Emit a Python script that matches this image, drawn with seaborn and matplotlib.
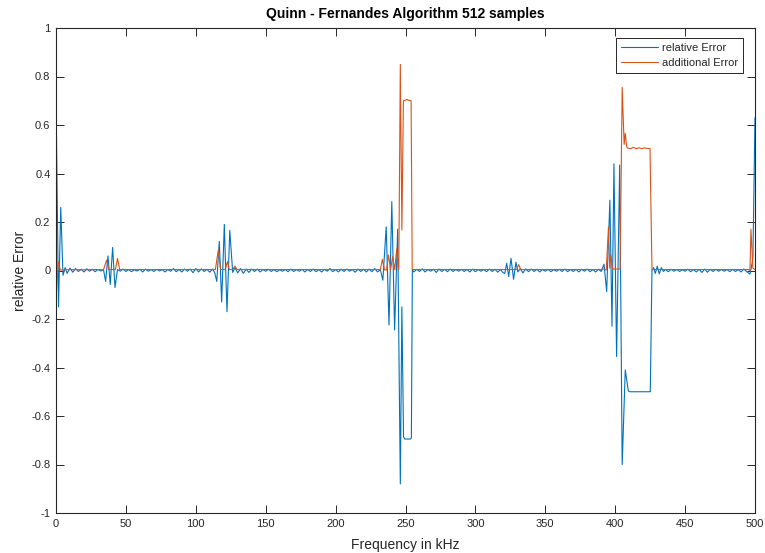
import matplotlib
matplotlib.use("Agg")
import matplotlib.pyplot as plt
import seaborn as sns
import pandas as pd

# Relative error of the frequency estimate (kHz, value)
relative_freq = [
    0, 1.8, 3.4, 5, 6.5, 8, 10, 12, 14, 16, 18, 20, 22, 24, 26, 28, 30, 32, 34,
    35.5, 37.2, 38.8, 40.5, 42.2, 44, 46, 48, 50, 52, 54, 56, 58, 60, 62, 64, 66,
    68, 70, 72, 74, 76, 78, 80, 82, 84, 86, 88, 90, 92, 94, 96, 98, 100, 102, 104,
    106, 108, 110, 112, 113.5, 115, 116.8, 118.5, 120.4, 122.3, 124.3, 126.4, 128,
    130, 132, 134, 136, 138, 140, 142, 144, 146, 148, 150, 152, 154, 156, 158, 160,
    162, 164, 166, 168, 170, 172, 174, 176, 178, 180, 182, 184, 186, 188, 190, 192,
    194, 196, 198, 200, 202, 204, 206, 208, 210, 212, 214, 216, 218, 220, 222, 224,
    226, 228, 230, 232, 233.8, 236.2, 238.2, 240.2, 242.2, 244.4, 246.3, 247.4,
    248.6, 249.4, 253.6, 254.2, 254.9, 256, 258, 260, 262, 264, 266, 268, 270, 272,
    274, 276, 278, 280, 282, 284, 286, 288, 290, 292, 294, 296, 298, 300, 302, 304,
    306, 308, 310, 312, 314, 316, 318, 319.6, 321, 322.4, 323.8, 325.5, 327.3, 329,
    330.4, 332, 334, 336, 338, 340, 342, 344, 346, 348, 350, 352, 354, 356, 358,
    360, 362, 364, 366, 368, 370, 372, 374, 376, 378, 380, 382, 384, 386, 388, 390,
    392, 393.9, 396.2, 397.7, 399.1, 401, 403.2, 405, 407.2, 409.4, 410.5, 425.1,
    426.3, 427.5, 428.7, 430.1, 431.5, 433, 434.5, 436, 438, 440, 442, 444, 446,
    448, 450, 452, 454, 456, 458, 460, 462, 464, 466, 468, 470, 472, 474, 476, 478,
    480, 482, 484, 486, 488, 490, 492, 494, 496.4, 497.6, 498.5, 500,
]
relative_err = [
    0.72, -0.15, 0.26, -0.02, 0.012, -0.012, 0.01, -0.007, 0.008, -0.004, 0.005,
    -0.006, 0.007, -0.003, 0.005, -0.005, 0.004, -0.002, 0.003,
    -0.045, 0.06, -0.058, 0.095, -0.07, 0.004, -0.003, 0.006, -0.004, 0.004, -0.005,
    0.003, -0.002, 0.005, -0.006, 0.006, -0.003,
    0.004, -0.004, 0.005, -0.002, 0.004, -0.006, 0.004, -0.003, 0.008, -0.005, 0.004,
    -0.006, 0.006, -0.003, 0.006, -0.009, 0.008, -0.006, 0.007,
    -0.004, 0.005, -0.007, 0.006, -0.008, -0.045, 0.12, -0.13, 0.19, -0.17, 0.165,
    -0.008, 0.012,
    -0.01, 0.008, -0.012, 0.006, -0.008, 0.006, -0.004, 0.006, -0.006, 0.004, -0.003,
    0.005, -0.004, 0.004, -0.005, 0.003,
    -0.003, 0.004, -0.005, 0.006, -0.004, 0.004, -0.003, 0.005, -0.006, 0.004, -0.004,
    0.006, -0.005, 0.004, -0.006, 0.005,
    -0.003, 0.008, -0.005, 0.004, -0.006, 0.005, -0.004, 0.006, -0.003, 0.004, -0.007,
    0.006, -0.004, 0.005, -0.006, 0.006,
    -0.005, 0.008, -0.006, 0.004, -0.04, 0.18, -0.225, 0.284, -0.245, 0.17, -0.88,
    -0.15,
    -0.685, -0.695, -0.695, -0.69, 0.002, -0.006, 0.005, -0.004, 0.007, -0.006, 0.004,
    -0.003, 0.005, -0.008,
    0.006, -0.004, 0.005, -0.005, 0.006, -0.004, 0.004, -0.003, 0.005, -0.004, 0.004,
    -0.006, 0.006, -0.005, 0.004, -0.003,
    0.004, -0.005, 0.006, -0.004, 0.005, -0.007, 0.004, -0.008, -0.012, 0.03, -0.025,
    0.05, -0.036, 0.034,
    -0.006, 0.008, -0.01, 0.007, -0.005, 0.006, -0.004, 0.005, -0.006, 0.004, -0.003,
    0.005, -0.005, 0.004, -0.003,
    0.005, -0.004, 0.006, -0.005, 0.004, -0.004, 0.005, -0.006, 0.005, -0.003, 0.006,
    -0.005, 0.004, -0.006, 0.005, -0.004,
    0.026, -0.087, 0.29, -0.23, 0.44, -0.355, 0.435, -0.80, -0.41, -0.497, -0.5, -0.5,
    0.0, 0.012, -0.012, 0.018, -0.014, 0.012, -0.004, 0.004, -0.005, 0.005, -0.003,
    0.004, -0.004,
    0.003, -0.003, 0.005, -0.005, 0.004, -0.006, 0.005, -0.008, 0.006, -0.007, 0.005,
    -0.004, 0.005, -0.003, 0.004, -0.003,
    0.004, -0.005, 0.005, -0.004, 0.004, -0.006, 0.006, -0.004, -0.015, 0.02, 0.05,
    0.63,
]

# Additional error introduced by the correction step (kHz, value)
additional_freq = [
    0, 1.6, 3.2, 10, 20, 30, 34, 36.2, 37.8, 42.5, 44, 45.5, 50, 60, 70, 80, 90,
    100, 110, 114, 116.1, 117.8, 121, 122.6, 124, 126.5, 128, 129.5, 140, 150, 160,
    170, 180, 190, 200, 210, 220, 230, 232, 233.5, 235, 236.5, 237.8, 239.3, 240.8,
    242.3, 243.7, 245.2, 246.3, 247.4, 248.5, 250, 251, 252, 254, 254.8, 260, 270,
    280, 290, 300, 310, 320, 329.5, 331, 332.5, 340, 350, 360, 370, 380, 390, 392,
    393.6, 395.2, 396.1, 396.9, 398, 403.5, 405, 406.4, 407.2, 408.2, 409, 411, 413,
    415, 417, 419, 421, 423, 424.9, 426.3, 430, 440, 450, 460, 470, 480, 490, 495.5,
    496.4, 497.1, 498.5, 500,
]
additional_err = [
    -0.12, 0.035, 0.002, 0.004, 0.003, 0.004, 0.003, 0.043, 0.004, 0.004, 0.05, 0.004,
    0.004, 0.004, 0.004, 0.004, 0.004,
    0.004, 0.004, 0.004, 0.085, 0.004, 0.004, 0.036, 0.004, 0.004, 0.018, 0.004,
    0.004, 0.004, 0.004,
    0.004, 0.004, 0.004, 0.004, 0.004, 0.004, 0.004, 0.003, 0.046, 0.002, 0.003,
    0.064, 0.003, 0.057,
    0.003, 0.089, 0.003, 0.85, 0.167, 0.70, 0.702, 0.706, 0.702, 0.70, 0.004, 0.004,
    0.004,
    0.004, 0.004, 0.004, 0.004, 0.004, 0.004, 0.024, 0.004, 0.004, 0.004, 0.004,
    0.004, 0.004, 0.004, 0.006,
    0.002, 0.18, 0.01, 0.064, 0.006, 0.006, 0.755, 0.52, 0.566, 0.51, 0.505, 0.502,
    0.508,
    0.502, 0.506, 0.502, 0.506, 0.503, 0.503, 0.004, 0.004, 0.004, 0.004, 0.004,
    0.004, 0.004, 0.004, 0.004,
    0.0, 0.17, 0.01, 0.004,
]

x_ticks = [0, 50, 100, 150, 200, 250, 300, 350, 400, 450, 500]
y_ticks = [-1, -0.8, -0.6, -0.4, -0.2, 0, 0.2, 0.4, 0.6, 0.8, 1]
y_tick_labels = ["-1", "-0.8", "-0.6", "-0.4", "-0.2", "0", "0.2", "0.4", "0.6", "0.8", "1"]

sns.set_style("white")
plt.rcParams["font.family"] = ["Liberation Sans", "DejaVu Sans"]
plt.rcParams["axes.unicode_minus"] = False

dark = "#262626"
blue = "#0072BD"
orange = "#D95319"

fig = plt.figure(figsize=(7.65, 5.53), dpi=100)
ax = fig.add_axes([56 / 765, 1 - 513 / 553, 699 / 765, 485 / 553])

rel = pd.DataFrame({"freq": relative_freq, "err": relative_err})
add = pd.DataFrame({"freq": additional_freq, "err": additional_err})

sns.lineplot(data=rel, x="freq", y="err", ax=ax, color=blue, lw=0.8,
             estimator=None, sort=False, label="relative Error")
sns.lineplot(data=add, x="freq", y="err", ax=ax, color=orange, lw=0.8,
             estimator=None, sort=False, label="additional Error")

ax.set_xlim(0, 500)
ax.set_ylim(-1, 1)
ax.set_xticks(x_ticks)
ax.set_xticklabels([str(t) for t in x_ticks])
ax.set_yticks(y_ticks)
ax.set_yticklabels(y_tick_labels)

for side in ["left", "right", "top", "bottom"]:
    ax.spines[side].set_visible(True)
    ax.spines[side].set_color(dark)
    ax.spines[side].set_linewidth(0.8)

ax.tick_params(axis="both", direction="in", length=6, width=0.7, color=dark,
               labelcolor=dark, labelsize=8, top=True, right=True,
               bottom=True, left=True, pad=4)

ax.set_xlabel("Frequency in kHz", fontsize=10, color=dark, labelpad=7)
ax.set_ylabel("relative Error", fontsize=10, color=dark, labelpad=3)
ax.set_title("Quinn - Fernandes Algorithm 512 samples", fontsize=10,
             fontweight="bold", color="black", pad=7)

leg = ax.legend(loc="upper right", bbox_to_anchor=(0.9833, 0.9788),
                borderaxespad=0, fontsize=8, frameon=True, fancybox=False,
                framealpha=1, edgecolor=dark, handlelength=3.3,
                handletextpad=0.4, labelspacing=0.45, borderpad=0.45)
leg.get_frame().set_linewidth(0.7)

fig.savefig("out.png", dpi=100)
